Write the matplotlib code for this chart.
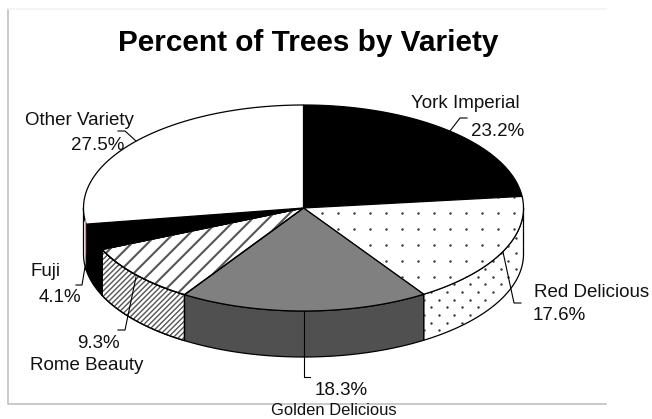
import matplotlib.pyplot as plt
import numpy as np
from matplotlib.collections import LineCollection
from matplotlib.patches import PathPatch, Polygon
from matplotlib.path import Path

plt.rcParams["font.family"] = ["Liberation Sans", "DejaVu Sans"]

# Datos
varieties = ["York Imperial", "Red Delicious", "Golden Delicious", "Rome Beauty", "Fuji", "Other Variety"]
percents = [23.2, 17.6, 18.3, 9.3, 4.1, 27.5]

# Geometria del pastel, en pixeles de la imagen
CX, CY = 303.5, 208
RX, RY = 220, 103
DEPTH = 46

top_colors = ["black", "white", "#808080", "white", "black", "white"]
wall_colors = ["black", "white", "#505050", "white", "black", "white"]
# rayado: (fase, separacion horizontal, grosor)
top_lines = [None, None, None, (7, 16, 1.5), None, None]
wall_lines = [None, None, None, (2, 5.3, 1.0), None, None]
# trama de puntos: (x0, y0, dx, dy, alternar filas)
top_dots = [None, (321.5, 213, 16, 16, False), None, None, None, None]
wall_dots = [None, (431.3, 307.3, 15.4, 7.7, True), None, None, None, None]

# Etiquetas: (x, y) de cada linea y guia
label_pos = [(465, 103, 498, 131), (592, 292, 559, 315), (334, 410, 341, 390),
             (87, 365, 98, 343), (45, 271, 60, 297), (79, 120, 98, 145)]
name_sizes = [13.5, 13.5, 11.9, 13.5, 13.5, 13.5]
leaders = [[(450, 131), (460, 118), (467, 118)],
           [(503, 252), (514, 303), (521, 303)],
           [(303.5, 311), (303.5, 377), (310, 377)],
           [(136, 277), (125, 330), (118, 330)],
           [(85, 267), (82, 285), (76, 285)],
           [(136, 141), (125, 131), (118, 131)]]


def ellipse(t):
    # t en grados; y crece hacia abajo
    r = np.radians(t)
    return CX + RX * np.cos(r), CY - RY * np.sin(r)


def dots(ax, poly, x0, y0, dx, dy, stagger):
    xs, ys = [], []
    for i in range(-30, 31):
        shift = dx / 2 if stagger and i % 2 else 0
        for k in range(-30, 31):
            xs.append(x0 + shift + k * dx)
            ys.append(y0 + i * dy)
    pts = ax.scatter(xs, ys, s=3, c="#333333", linewidths=0, zorder=poly.get_zorder() + 0.1)
    pts.set_clip_path(poly)


def stripes(ax, poly, phase, step, lw):
    segs = [[(c, 0), (c - 419, 419)] for c in np.arange(phase, 1100, step)]
    lines = LineCollection(segs, colors="#555555", linewidths=lw, zorder=poly.get_zorder() + 0.1)
    ax.add_collection(lines)
    lines.set_clip_path(poly)


fig = plt.figure(figsize=(6.52, 4.19), dpi=100)
ax = fig.add_axes([0, 0, 1, 1])
ax.set_xlim(0, 652)
ax.set_ylim(419, 0)
ax.axis("off")

# Marco
ax.plot([606, 7.5, 7.5], [404, 404, 9.5], color="#c0c0c0", lw=1.2, zorder=0)
ax.plot([7.5, 606], [9.5, 9.5], color="#f2f2f2", lw=1.2, zorder=0.5)

# Paredes laterales
start = 90.0
for i, p in enumerate(percents):
    end = start - p * 3.6
    lo, hi = end % 360, (start % 360) or 360
    if hi < lo:
        hi += 360
    # parte visible de la pared: 180..360
    a, b = max(lo, 180), min(hi, 360)
    if a < b:
        t = np.linspace(a, b, 60)
        x, y = ellipse(t)
        verts = list(zip(x, y)) + list(zip(x[::-1], y[::-1] + DEPTH))
        wall = Polygon(verts, closed=True, facecolor=wall_colors[i], edgecolor="black",
                       lw=0.9, zorder=2)
        ax.add_patch(wall)
        if wall_lines[i]:
            stripes(ax, wall, *wall_lines[i])
            ax.add_patch(Polygon(verts, closed=True, facecolor="none", edgecolor="black",
                                 lw=0.9, zorder=2.2))
        if wall_dots[i]:
            dots(ax, wall, *wall_dots[i])
    start = end

# Caras superiores
start = 90.0
for i, p in enumerate(percents):
    end = start - p * 3.6
    t = np.linspace(start, end, 120)
    x, y = ellipse(t)
    verts = [(CX, CY)] + list(zip(x, y)) + [(CX, CY)]
    codes = [Path.MOVETO] + [Path.LINETO] * (len(verts) - 2) + [Path.CLOSEPOLY]
    face = PathPatch(Path(verts, codes), facecolor=top_colors[i], edgecolor="black", lw=0.9, zorder=3)
    ax.add_patch(face)
    if top_lines[i]:
        stripes(ax, face, *top_lines[i])
        ax.add_patch(PathPatch(Path(verts, codes), facecolor="none", edgecolor="black", lw=0.9, zorder=3.2))
    if top_dots[i]:
        dots(ax, face, *top_dots[i])
    start = end

# Linea rosada en el borde de Fuji
ax.plot([84.5, 84.5], [220, 253], color="#f08080", lw=0.9, zorder=4)

# Guias y textos
for name, pct, pos, lead, size in zip(varieties, percents, label_pos, leaders, name_sizes):
    lx, ly = zip(*lead)
    ax.plot(lx, ly, color="black", lw=0.8, zorder=5)
    ax.text(pos[0], pos[1], name, fontsize=size, ha="center", va="center", color="#111111", zorder=6)
    ax.text(pos[2], pos[3], f"{pct:.1f}%", fontsize=13.5, ha="center", va="center", color="#111111", zorder=6)

ax.text(308.5, 43, "Percent of Trees by Variety", fontsize=21.4, fontweight="bold",
        ha="center", va="center", color="black")

fig.savefig("out.png", dpi=100)
